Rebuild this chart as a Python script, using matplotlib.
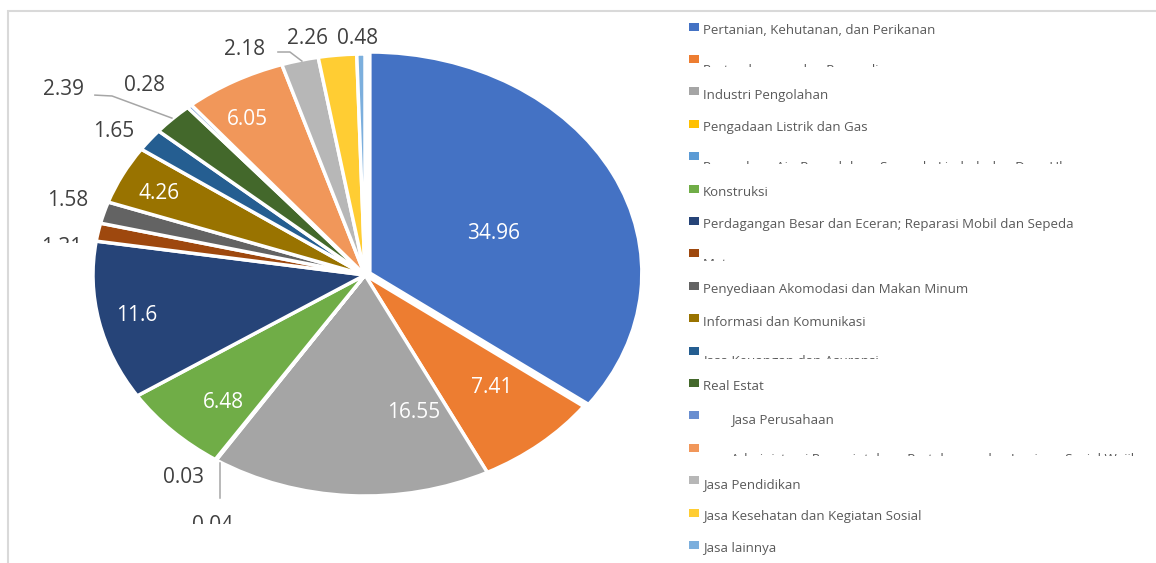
import matplotlib
matplotlib.use("Agg")
import matplotlib.pyplot as plt
from matplotlib.patches import Rectangle

plt.rcParams['font.family'] = ['Open Sans', 'DejaVu Sans']

# lapangan usaha (urutan legenda / irisan searah jarum jam dari atas)
categories = [
    'Pertanian, Kehutanan, dan Perikanan',
    'Pertambangan dan Penggalian',
    'Industri Pengolahan',
    'Pengadaan Listrik dan Gas',
    'Pengadaan Air, Pengelolaan Sampah, Limbah dan Daur Ulang',
    'Konstruksi',
    'Perdagangan Besar dan Eceran; Reparasi Mobil dan Sepeda',
    'Motor',
    'Penyediaan Akomodasi dan Makan Minum',
    'Informasi dan Komunikasi',
    'Jasa Keuangan dan Asuransi',
    'Real Estat',
    'Jasa Perusahaan',
    'Administrasi Pemerintahan, Pertahanan dan Jaminan Sosial Wajib',
    'Jasa Pendidikan',
    'Jasa Kesehatan dan Kegiatan Sosial',
    'Jasa lainnya',
]
values = [34.96, 7.41, 16.55, 0.04, 0.03, 6.48, 11.6, 1.31, 1.58, 4.26,
          1.65, 2.39, 0.28, 6.05, 2.18, 2.26, 0.48]
colors = ['#4472C4', '#ED7D31', '#A5A5A5', '#FFC000', '#5B9BD5', '#70AD47',
          '#264478', '#9E480E', '#636363', '#997300', '#255E91', '#43682B',
          '#698ED0', '#F1975A', '#B7B7B7', '#FFCD33', '#7CAFDD']

# posisi label (koordinat satuan pie) dan warna teksnya
label_pos = [(0.471, 0.186), (0.467, -0.511), (0.180, -0.620), (-0.559, -1.133),
             (-0.667, -0.916), (-0.522, -0.579), (-0.838, -0.183), (-1.116, 0.124),
             (-1.092, 0.339), (-0.758, 0.367), (-0.923, 0.650), (-1.107, 0.840),
             (-0.812, 0.856), (-0.434, 0.704), (-0.441, 1.020), (-0.210, 1.070),
             (-0.029, 1.070)]
inside = [True, True, True, False, False, True, True, False, False, True,
          False, False, False, True, False, False, False]
clipped_legend = [1, 4, 7, 10, 13]
indented_legend = [12, 13]

W, H = 1156, 563
fig = plt.figure(figsize=(W / 100, H / 100), dpi=100, facecolor='white')

# pie (elips, jadi aspect tidak sama)
ax = fig.add_axes([93 / W, (H - 496) / H, 544 / W, 442 / H])
explode = [0.02] + [0] * (len(values) - 1)
ax.pie(values, colors=colors, startangle=90, counterclock=False, explode=explode,
       wedgeprops=dict(edgecolor='white', linewidth=2.5))
ax.set_aspect('auto')
ax.set_xlim(-1, 1)
ax.set_ylim(-1, 1)
ax.axis('off')

for v, (x, y), ins in zip(values, label_pos, inside):
    ax.text(x, y, str(v), ha='center', va='center', fontsize=15,
            color='white' if ins else '#404040')

# garis penunjuk
lc = '#A6A6A6'
ax.plot([-0.993, -0.930, -0.710], [0.814, 0.810, 0.710], color=lc, lw=1.1, clip_on=False)
ax.plot([-0.320, -0.276, -0.232], [1.009, 1.009, 0.968], color=lc, lw=1.1, clip_on=False)
ax.plot([-0.533, -0.533], [-0.851, -1.009], color=lc, lw=1.1, clip_on=False)

# lapisan atas dalam piksel: bingkai, legenda, penutup teks terpotong
ov = fig.add_axes([0, 0, 1, 1], zorder=5)
ov.set_xlim(0, W)
ov.set_ylim(H, 0)
ov.axis('off')
ov.patch.set_alpha(0)

ov.plot([7, W], [11, 11], color='#D9D9D9', lw=1.5, solid_capstyle='butt')
ov.plot([8, 8], [10, H], color='#D9D9D9', lw=1.5, solid_capstyle='butt')

row0, step = 26.5, 32.4
for i, (name, c) in enumerate(zip(categories, colors)):
    yc = row0 + i * step
    ov.add_patch(Rectangle((689, yc - 4), 10, 8, facecolor=c, edgecolor='none', zorder=2))
    tx = 731 if i in indented_legend else 703
    if i in clipped_legend:
        ov.text(tx, yc + 15, name, fontsize=9.5, color='#595959', va='baseline', zorder=2)
        ov.add_patch(Rectangle((700, yc + 8), W - 700, 14, facecolor='white',
                               edgecolor='none', zorder=3))
    else:
        ov.text(tx, yc + 7.5, name, fontsize=9.5, color='#595959', va='baseline', zorder=2)

# label pie yang terpotong (1.31 dan 0.04)
ov.add_patch(Rectangle((35, 243), 55, 14, facecolor='white', edgecolor='none', zorder=3))
ov.add_patch(Rectangle((185, 524), 60, 25, facecolor='white', edgecolor='none', zorder=3))

fig.savefig('out.png', dpi=100, facecolor='white')
